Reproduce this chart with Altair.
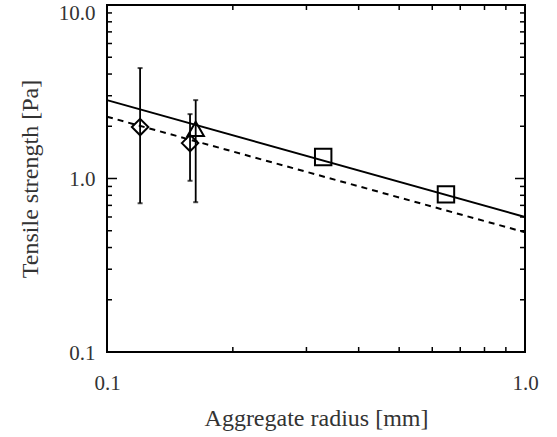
import altair as alt
import pandas as pd

# ---- data ----
diamond_x = [0.12, 0.158]
diamond_y = [1.98, 1.60]
diamond_lo = [0.72, 0.97]
diamond_hi = [4.33, 2.35]

triangle_x = [0.163]
triangle_y = [1.93]
triangle_lo = [0.73]
triangle_hi = [2.83]

square_x = [0.329, 0.647]
square_y = [1.33, 0.81]

fit_x = [0.1, 1.0]
fit_solid = [2.83, 0.60]
fit_dashed = [2.27, 0.49]

x_labels = [0.1, 1.0]
y_labels = [0.1, 1.0, 10.0]
x_minor = [0.2, 0.3, 0.4, 0.5, 0.6, 0.7, 0.8, 0.9]
y_minor = [0.2, 0.3, 0.4, 0.5, 0.6, 0.7, 0.8, 0.9, 2, 3, 4, 5, 6, 7, 8, 9]
y_major = [1.0]

W, H = 418, 347
FONT = "Liberation Serif"
TXT = "#333333"

xs = alt.Scale(type="log", domain=[0.1, 1.0], nice=False)
ys = alt.Scale(type="log", domain=[0.1, 10.0], nice=False)

pts = pd.DataFrame({
    "x": diamond_x + triangle_x + square_x,
    "y": diamond_y + triangle_y + square_y,
    "shape": ["diamond"] * len(diamond_x) + ["triangle-up"] * len(triangle_x) + ["square"] * len(square_x),
})
err = pd.DataFrame({
    "x": diamond_x + triangle_x,
    "lo": diamond_lo + triangle_lo,
    "hi": diamond_hi + triangle_hi,
})
caps = pd.DataFrame({
    "x": (diamond_x + triangle_x) * 2,
    "y": diamond_lo + triangle_lo + diamond_hi + triangle_hi,
})
fits = pd.DataFrame({
    "x": fit_x * 2,
    "y": fit_solid + fit_dashed,
    "kind": ["solid"] * 2 + ["dashed"] * 2,
})

base_axes = alt.Chart(pd.DataFrame({"x": x_labels[:1], "y": y_labels[:1]})).mark_point(opacity=0).encode(
    x=alt.X("x:Q", scale=xs, axis=alt.Axis(
        values=x_labels, format=".1f", ticks=False, domain=False, grid=False,
        labelFlush=False, labelPadding=20, title="Aggregate radius [mm]", titlePadding=13)),
    y=alt.Y("y:Q", scale=ys, axis=alt.Axis(
        values=y_labels, format=".1f", ticks=False, domain=False, grid=False,
        labelFlush=False, labelPadding=12, title="Tensile strength [Pa]", titlePadding=16,
        labelBaseline="middle",
        labelOffset={"condition": {"test": "datum.value >= 10", "value": 8}, "value": 1})),
)

solid = alt.Chart(fits[fits.kind == "solid"]).mark_line(color="black", strokeWidth=2).encode(
    x=alt.X("x:Q", scale=xs), y=alt.Y("y:Q", scale=ys))
dashed = alt.Chart(fits[fits.kind == "dashed"]).mark_line(color="black", strokeWidth=2, strokeDash=[6, 5]).encode(
    x=alt.X("x:Q", scale=xs), y=alt.Y("y:Q", scale=ys))

bars = alt.Chart(err).mark_rule(color="black", strokeWidth=1.8).encode(
    x=alt.X("x:Q", scale=xs), y=alt.Y("lo:Q", scale=ys), y2="hi:Q")
capmarks = alt.Chart(caps).mark_tick(color="black", orient="horizontal", size=5, thickness=2).encode(
    x=alt.X("x:Q", scale=xs), y=alt.Y("y:Q", scale=ys))

symbols = alt.Chart(pts).mark_point(filled=False, color="black", strokeWidth=2, size=270, opacity=1).encode(
    x=alt.X("x:Q", scale=xs), y=alt.Y("y:Q", scale=ys),
    shape=alt.Shape("shape:N", scale=None, legend=None))

# tick marks drawn inward on all four sides
xm = pd.DataFrame({"x": x_minor})
ym = pd.DataFrame({"y": y_minor})
yM = pd.DataFrame({"y": y_major})
TL, TM = 5, 10
t_bottom = alt.Chart(xm).mark_rule(color="black", strokeWidth=1.5).encode(
    x=alt.X("x:Q", scale=xs), y=alt.value(H), y2=alt.value(H - TL))
t_top = alt.Chart(xm).mark_rule(color="black", strokeWidth=1.5).encode(
    x=alt.X("x:Q", scale=xs), y=alt.value(0), y2=alt.value(TL))
t_left = alt.Chart(ym).mark_rule(color="black", strokeWidth=1.5).encode(
    y=alt.Y("y:Q", scale=ys), x=alt.value(0), x2=alt.value(TL))
t_right = alt.Chart(ym).mark_rule(color="black", strokeWidth=1.5).encode(
    y=alt.Y("y:Q", scale=ys), x=alt.value(W), x2=alt.value(W - TL))
tM_left = alt.Chart(yM).mark_rule(color="black", strokeWidth=1.5).encode(
    y=alt.Y("y:Q", scale=ys), x=alt.value(0), x2=alt.value(TM))
tM_right = alt.Chart(yM).mark_rule(color="black", strokeWidth=1.5).encode(
    y=alt.Y("y:Q", scale=ys), x=alt.value(W), x2=alt.value(W - TM))

chart = alt.layer(
    base_axes, t_bottom, t_top, t_left, t_right, tM_left, tM_right,
    dashed, solid, bars, capmarks, symbols
).properties(
    width=W, height=H,
    autosize=alt.AutoSizeParams(type="none"),
    padding={"left": 107, "top": 5, "right": 32, "bottom": 85},
    background="white",
).configure_view(
    stroke="black", strokeWidth=2
).configure_axis(
    labelFont=FONT, titleFont=FONT, labelFontSize=21, titleFontSize=24,
    labelColor=TXT, titleColor=TXT, titleFontWeight="normal"
)

chart.save("out.html", embed_options={"renderer": "svg", "actions": False})
